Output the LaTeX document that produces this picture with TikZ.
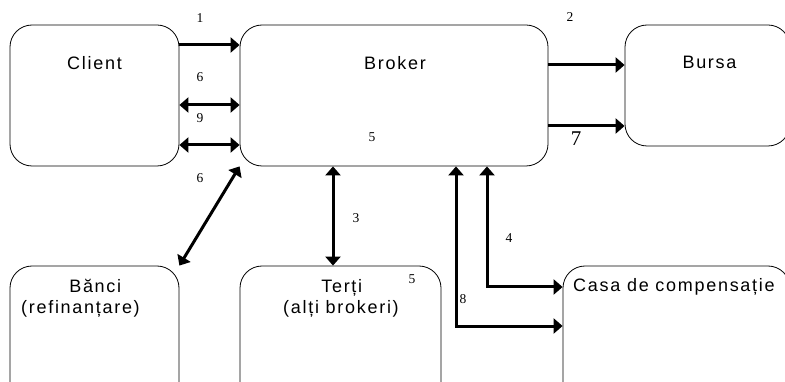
\documentclass[tikz,border=0pt]{standalone}
\usepackage{fontspec}
\setmainfont{Liberation Serif}
\newfontfamily\boxfont[LetterSpace=9.5]{Liberation Sans}
\usetikzlibrary{arrows.meta}

\begin{document}
\begin{tikzpicture}[x=1pt,y=-1pt,>={Triangle[length=9pt,width=15pt]},
  box/.style={draw,line width=0.8pt,rounded corners=22pt,inner sep=0pt},
  txt/.style={font=\boxfont\fontsize{18}{21}\selectfont,inner sep=0pt},
  num/.style={font=\fontsize{13.5}{15}\selectfont,inner sep=0pt},
  link/.style={line width=3pt}]
\useasboundingbox (0,0) rectangle (785,382);

% the boxes
\node[box,minimum width=169pt,minimum height=141pt] (client) at (94.5,95.5) {};
\node[box,minimum width=308pt,minimum height=141pt] (broker) at (394,95.5) {};
\node[box,minimum width=165pt,minimum height=121pt] (bursa) at (707.5,85.5) {};
\node[box,minimum width=169pt,minimum height=154pt] (banci) at (94.5,343) {};
\node[box,minimum width=201pt,minimum height=154pt] (terti) at (340.5,343) {};
\node[box,minimum width=227pt,minimum height=154pt] (casa) at (676.5,343) {};

% their texts
\node[txt,anchor=base] (clientT) at (94.5,70) {Client};
\node[txt,anchor=base] (brokerT) at (395,70) {Broker};
\node[txt,anchor=base] (bursaT) at (709.5,69) {Bursa};
\node[txt,align=left,anchor=west] (banciT) at (21,298) {\makebox[100pt][r]{Bănci}\\(refinanțare)};
\node[txt,align=left,anchor=west] (tertiT) at (283,298) {\makebox[79pt][r]{Terți}\\(alți brokeri)};
\node[txt,anchor=base west] (casaT) at (573,292) {Casa de compensație};

% connectors
\draw[link,->] ([yshift=50.5pt]client.east) -- ([yshift=50.5pt]client.east -| broker.west);
\draw[link,<->] ([yshift=-9.5pt]client.east) -- ([yshift=-9.5pt]client.east -| broker.west);
\draw[link,<->] ([yshift=-49.5pt]client.east) -- ([yshift=-49.5pt]client.east -| broker.west);
\draw[link,<->] (banci.north east) -- (broker.south west);
\draw[link,->] ([yshift=30.5pt]broker.east) -- ([yshift=30.5pt]broker.east -| bursa.west);
\draw[link,->] ([yshift=-30.5pt]broker.east) -- ([yshift=-30.5pt]broker.east -| bursa.west);
\draw[link,<->] ([xshift=-7.5pt]terti.north) -- ([xshift=-7.5pt]terti.north |- broker.south);
\coordinate (k4) at (487,287);
\coordinate (k8) at (456,326);
\draw[link,<->] (k4 |- broker.south) -- (k4) -- (k4 -| casa.west);
\draw[link,<->] (k8 |- broker.south) -- (k8) -- (k8 -| casa.west);

% numbers
\node[num] (n1) at (200,18) {1};
\node[num] (n6a) at (200,77) {6};
\node[num] (n9) at (200,118) {9};
\node[num] (n6b) at (200,178) {6};
\node[num] (n5a) at (372,137) {5};
\node[num] (n2) at (570,17) {2};
\node[num,font=\fontsize{21}{23}\selectfont] (n7) at (576,139) {7};
\node[num] (n3) at (356,218) {3};
\node[num] (n5b) at (412,279) {5};
\node[num] (n4) at (509,238) {4};
\node[num] (n8) at (463,299) {8};
\end{tikzpicture}
\end{document}
